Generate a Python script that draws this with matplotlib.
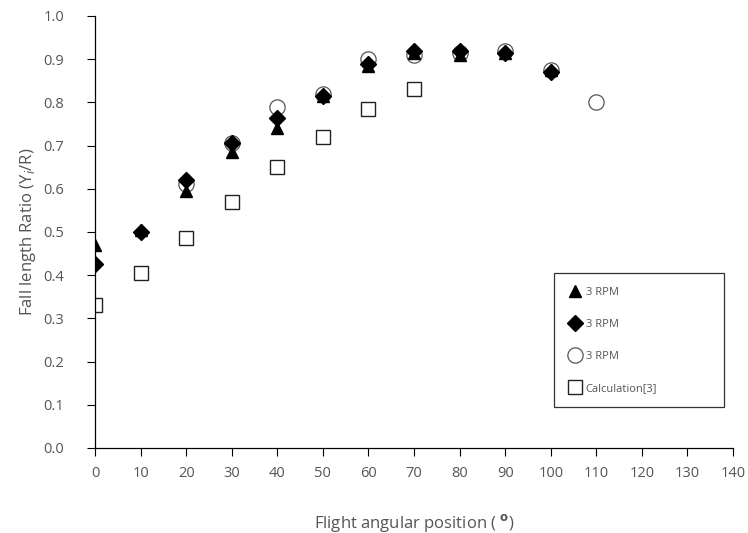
import matplotlib
matplotlib.use("Agg")
import matplotlib.pyplot as plt

plt.rcParams['font.family'] = ['Open Sans', 'DejaVu Sans']

angles_tri = [0, 10, 20, 30, 40, 50, 60, 70, 80, 90, 100]
ratio_tri = [0.47, 0.505, 0.595, 0.685, 0.74, 0.815, 0.885, 0.915, 0.91, 0.915, 0.875]

angles_dia = [0, 10, 20, 30, 40, 50, 60, 70, 80, 90, 100]
ratio_dia = [0.425, 0.50, 0.62, 0.705, 0.765, 0.815, 0.89, 0.92, 0.92, 0.915, 0.87]

angles_cir = [20, 30, 40, 50, 60, 70, 80, 90, 100, 110]
ratio_cir = [0.61, 0.705, 0.79, 0.82, 0.90, 0.91, 0.915, 0.92, 0.875, 0.80]

angles_sq = [0, 10, 20, 30, 40, 50, 60, 70]
ratio_sq = [0.33, 0.405, 0.485, 0.57, 0.65, 0.72, 0.785, 0.83]

labels = ["3 RPM", "3 RPM", "3 RPM", "Calculation[3]"]
xticks = list(range(0, 141, 10))
yticks = [i / 10 for i in range(11)]

txt = '#555555'
fig = plt.figure(figsize=(7.48, 5.33), dpi=100)
ax = fig.add_axes([0.127, 0.1595, 0.853, 0.8105])

ax.plot(angles_sq, ratio_sq, ls='none', marker='s', ms=10, mfc='white', mec='#222222', mew=1.0, label=labels[3], zorder=2)
ax.plot(angles_cir, ratio_cir, ls='none', marker='o', ms=11, mfc='white', mec='#555555', mew=0.9, label=labels[2], zorder=3)
ax.plot(angles_dia, ratio_dia, ls='none', marker='D', ms=8, color='black', label=labels[1], zorder=4)
ax.plot(angles_tri, ratio_tri, ls='none', marker='^', ms=9, color='black', label=labels[0], zorder=5)

ax.set_xlim(0, 140)
ax.set_ylim(0, 1.0)
ax.set_xticks(xticks)
ax.set_yticks(yticks)
ax.set_yticklabels([f"{v:.1f}" for v in yticks])
for s in ['top', 'right']:
    ax.spines[s].set_visible(False)
for s in ['left', 'bottom']:
    ax.spines[s].set_color('black')
    ax.spines[s].set_linewidth(0.9)
ax.tick_params(direction='out', length=6, width=0.8, color='black', labelcolor=txt, labelsize=10.5)
ax.tick_params(axis='x', pad=7)
ax.tick_params(axis='y', pad=16)
ax.set_xlabel(r"Flight angular position ( $^{\mathbf{o}}$)", color=txt, fontsize=12, labelpad=22)
ax.set_ylabel("Fall length Ratio (Y$_i$/R)", color=txt, fontsize=12, labelpad=4)

h, l = ax.get_legend_handles_labels()
order = [3, 2, 1, 0]
leg = ax.legend([h[i] for i in order], [l[i] for i in order], loc='lower left',
                bbox_to_anchor=(0.71, 0.081, 0.285, 0.349), mode='expand',
                frameon=True, fancybox=False, edgecolor='black', labelspacing=1.9,
                fontsize=8, labelcolor=txt, handletextpad=0.2, borderpad=1.2, handlelength=1.5)
leg.get_frame().set_linewidth(0.9)

fig.savefig("out.png", dpi=100, facecolor='white')
